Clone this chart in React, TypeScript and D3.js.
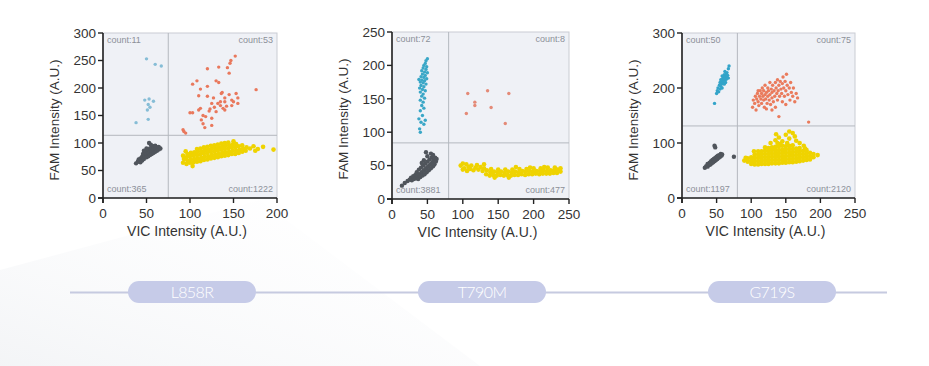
import React from "react";
import * as d3 from "d3";

type P = [number, number];

// ---------- Panel 1: L858R ----------
const p1Blue: P[] = [[50,253],[60,243],[67,240],[48,178],[53,180],[58,176],[52,170],[54,165],[51,160],[52,143],[38,137]];
const p1Orange: P[] = [[92,124],[93,121],[95,118],[100,155],[103,155],[103,207],[108,213],[110,160],[110,186],[112,163],[112,198],[113,142],[115,150],[115,135],[117,128],[118,148],[120,235],[120,203],[120,185],[122,158],[123,162],[125,172],[125,145],[125,132],[127,182],[128,165],[130,213],[130,157],[132,172],[133,238],[133,210],[135,175],[135,168],[136,190],[137,192],[138,163],[140,182],[140,175],[140,160],[142,167],[143,237],[145,188],[145,227],[146,245],[147,250],[148,178],[148,168],[150,175],[152,258],[153,190],[155,182],[155,172],[176,197]];
const p1Gray: P[] = [[38,63],[40,66],[41,70],[43,65],[43,72],[45,68],[45,75],[46,80],[47,71],[48,77],[48,83],[50,74],[50,80],[50,86],[52,76],[52,82],[52,88],[54,78],[54,84],[54,90],[56,80],[56,86],[56,92],[58,82],[58,88],[58,94],[60,84],[60,90],[60,95],[62,86],[62,92],[64,88],[64,93],[66,90],[55,97],[50,90],[47,86],[53,100]];
const p1Yellow: P[] = [[92,64],[93,71],[92,77],[96,62],[97,68],[96,74],[97,80],[100,64],[101,70],[100,76],[101,82],[104,65],[105,71],[104,77],[105,83],[108,66],[109,72],[108,78],[109,84],[108,89],[112,67],[113,73],[112,79],[113,85],[112,90],[116,69],[117,75],[116,81],[117,87],[116,92],[120,70],[121,76],[120,82],[121,88],[120,93],[124,72],[125,78],[124,84],[125,90],[124,95],[128,73],[129,79],[128,85],[129,91],[128,96],[132,74],[133,80],[132,86],[133,92],[132,97],[136,76],[137,82],[136,88],[137,94],[136,99],[140,77],[141,83],[140,89],[141,95],[140,100],[144,78],[145,84],[144,90],[145,96],[144,101],[148,80],[149,86],[148,92],[149,97],[152,80],[153,86],[152,92],[153,98],[156,82],[157,88],[156,94],[160,84],[161,90],[160,96],[164,86],[165,92],[169,90],[173,94],[178,89],[184,93],[196,88],[175,86],[95,85],[103,58],[150,103]];
const p1Counts = ["count:11", "count:53", "count:365", "count:1222"];

// ---------- Panel 2: T790M ----------
const p2Blue: P[] = [[50,210],[48,207],[47,203],[45,200],[49,198],[44,196],[48,194],[42,192],[46,190],[50,189],[43,187],[47,185],[41,183],[45,182],[49,180],[38,179],[42,178],[46,177],[40,175],[44,174],[48,172],[41,170],[45,168],[39,166],[43,164],[47,162],[40,160],[44,157],[42,154],[46,151],[40,148],[44,145],[42,140],[45,136],[40,132],[43,125],[38,120],[47,118],[41,115],[45,112],[39,105],[40,100]];
const p2Orange: P[] = [[107,158],[117,145],[117,140],[135,162],[140,137],[165,158],[105,128],[160,113]];
const p2Gray: P[] = [[14,20],[18,24],[22,27],[25,29],[27,32],[28,28],[30,34],[31,30],[33,36],[34,31],[35,40],[36,34],[37,30],[38,44],[39,37],[40,33],[41,47],[42,40],[43,35],[44,50],[45,43],[46,37],[47,53],[48,46],[49,40],[50,56],[51,49],[52,43],[53,59],[54,52],[55,46],[56,62],[57,55],[58,49],[59,58],[60,52],[61,62],[62,56],[50,64],[55,68],[48,70],[58,66],[45,58],[42,54],[63,60]];
const p2Yellow: P[] = [[97,50],[100,53],[102,46],[105,52],[108,48],[110,45],[112,50],[115,43],[118,47],[120,51],[122,44],[125,48],[128,42],[130,52],[130,46],[100,44],[106,42],[133,37],[134,43],[138,35],[139,40],[140,45],[143,36],[144,41],[148,35],[149,40],[150,44],[153,36],[154,41],[158,35],[159,39],[160,44],[163,36],[164,41],[168,35],[169,40],[170,44],[173,36],[174,41],[178,36],[179,40],[180,45],[183,37],[184,42],[188,36],[189,41],[190,45],[193,37],[194,42],[198,37],[199,41],[200,46],[203,38],[204,42],[208,37],[209,42],[210,46],[213,38],[214,43],[218,38],[219,42],[220,47],[223,38],[224,43],[228,39],[229,43],[230,47],[233,39],[234,44],[238,41],[238,46],[175,48],[195,47],[215,48],[145,32],[165,32]];
const p2Counts = ["count:72", "count:8", "count:3881", "count:477"];

// ---------- Panel 3: G719S ----------
const p3Blue: P[] = [[47,172],[50,190],[51,195],[52,200],[53,193],[54,205],[55,198],[55,210],[56,203],[57,212],[57,207],[58,215],[58,200],[59,218],[59,210],[60,213],[60,220],[61,207],[61,224],[62,215],[62,218],[63,222],[63,210],[64,225],[64,216],[65,220],[65,228],[66,223],[67,235],[67,218],[68,240],[62,230],[56,215],[58,222]];
const p3Orange: P[] = [[102,165],[103,178],[105,172],[106,185],[107,160],[108,180],[109,190],[110,175],[111,168],[112,185],[113,195],[114,180],[115,172],[115,190],[116,200],[117,185],[118,178],[118,195],[119,165],[120,205],[120,188],[121,180],[122,192],[123,172],[124,200],[124,185],[125,195],[126,178],[127,210],[127,188],[128,170],[129,198],[130,182],[130,192],[131,205],[132,175],[133,195],[134,185],[135,210],[135,165],[136,200],[137,190],[138,215],[138,178],[139,195],[140,205],[140,148],[141,185],[142,212],[143,198],[144,190],[145,208],[145,175],[146,220],[147,200],[148,185],[149,212],[150,195],[150,170],[151,225],[152,205],[153,188],[155,200],[156,178],[157,210],[158,192],[160,185],[161,200],[163,175],[165,190],[167,182],[130,160],[122,162],[183,138],[110,195]];
const p3Gray: P[] = [[33,55],[35,58],[37,57],[37,62],[39,60],[40,64],[41,61],[42,67],[43,63],[44,69],[45,65],[46,71],[47,67],[48,73],[49,69],[50,75],[51,71],[52,77],[53,73],[54,78],[55,75],[56,80],[57,77],[58,79],[47,95],[48,92],[75,75]];
const p3Yellow: P[] = [[95,66],[95,72],[100,62],[100,68],[100,74],[105,61],[105,67],[105,73],[105,79],[110,61],[110,67],[110,73],[110,79],[115,62],[115,68],[115,74],[115,80],[115,85],[120,62],[120,68],[120,74],[120,80],[120,86],[125,62],[125,68],[125,74],[125,80],[125,86],[125,91],[130,63],[130,69],[130,75],[130,81],[130,87],[130,92],[135,63],[135,69],[135,75],[135,81],[135,87],[135,93],[140,63],[140,69],[140,75],[140,81],[140,87],[140,94],[145,64],[145,70],[145,76],[145,82],[145,88],[145,95],[150,64],[150,70],[150,76],[150,82],[150,88],[150,94],[155,65],[155,71],[155,77],[155,83],[155,89],[155,95],[160,65],[160,71],[160,77],[160,83],[160,89],[160,96],[165,66],[165,72],[165,78],[165,84],[165,90],[170,67],[170,73],[170,79],[170,85],[170,91],[175,68],[175,74],[175,80],[175,86],[180,69],[180,75],[180,81],[180,87],[185,70],[185,76],[185,82],[190,74],[190,80],[196,78],[128,100],[135,105],[140,110],[145,103],[150,115],[155,108],[160,118],[163,112],[165,104],[170,100],[142,98],[152,100],[176,95],[178,90],[138,100],[120,92],[110,85],[90,68],[92,73],[104,85],[136,116],[155,121]];
const p3Counts = ["count:50", "count:75", "count:1197", "count:2120"];

// ---------- axes / labels ----------
const p1XTicks = [0, 50, 100, 150, 200];
const p1YTicks = [0, 50, 100, 150, 200, 250, 300];
const p2XTicks = [0, 50, 100, 150, 200, 250];
const p2YTicks = [0, 50, 100, 150, 200, 250];
const p3XTicks = [0, 50, 100, 150, 200, 250];
const p3YTicks = [0, 100, 200, 300];
const thresholdsX = [75, 80, 80];
const thresholdsY = [114, 84, 131];
const mutations = ["L858R", "T790M", "G719S"];
const xTitle = "VIC Intensity (A.U.)";
const yTitle = "FAM Intensity (A.U.)";

type Panel = {
  left: number; top: number; w: number; h: number;
  xMax: number; yMax: number; xTicks: number[]; yTicks: number[];
  tx: number; ty: number; counts: string[];
  blue: P[]; orange: P[]; gray: P[]; yellow: P[];
  blueColor: string; orangeColor: string;
};

const panels: Panel[] = [
  { left: 103, top: 33, w: 174, h: 165, xMax: 200, yMax: 300, xTicks: p1XTicks, yTicks: p1YTicks, tx: thresholdsX[0], ty: thresholdsY[0], counts: p1Counts, blue: p1Blue, orange: p1Orange, gray: p1Gray, yellow: p1Yellow, blueColor: "#86bdd6", orangeColor: "#e9785c" },
  { left: 392, top: 32, w: 177, h: 167, xMax: 250, yMax: 250, xTicks: p2XTicks, yTicks: p2YTicks, tx: thresholdsX[1], ty: thresholdsY[1], counts: p2Counts, blue: p2Blue, orange: p2Orange, gray: p2Gray, yellow: p2Yellow, blueColor: "#3aa7c7", orangeColor: "#e48a77" },
  { left: 682, top: 33, w: 173, h: 165, xMax: 250, yMax: 300, xTicks: p3XTicks, yTicks: p3YTicks, tx: thresholdsX[2], ty: thresholdsY[2], counts: p3Counts, blue: p3Blue, orange: p3Orange, gray: p3Gray, yellow: p3Yellow, blueColor: "#33a4c9", orangeColor: "#ea7b5c" },
];

const FONT = "'Liberation Sans', Arial, sans-serif";

function ScatterPanel({ p }: { p: Panel }) {
  const x = d3.scaleLinear().domain([0, p.xMax]).range([p.left, p.left + p.w]);
  const y = d3.scaleLinear().domain([0, p.yMax]).range([p.top + p.h, p.top]);
  const right = p.left + p.w;
  const bottom = p.top + p.h;
  const dots = (pts: P[], color: string, r: number, op = 1) =>
    pts.map((d, i) => <circle key={i} cx={x(d[0])} cy={y(d[1])} r={r} fill={color} opacity={op} />);
  return (
    <g>
      <rect x={p.left} y={p.top} width={p.w} height={p.h} fill="#eff1f6" stroke="#c9ccd3" strokeWidth={1} />
      <line x1={x(p.tx)} x2={x(p.tx)} y1={p.top} y2={bottom} stroke="#b4b8bf" strokeWidth={1} />
      <line x1={p.left} x2={right} y1={y(p.ty)} y2={y(p.ty)} stroke="#b4b8bf" strokeWidth={1} />
      {dots(p.yellow, "#efd300", 2.3)}
      {dots(p.gray, "#50555c", 2.2)}
      {dots(p.blue, p.blueColor, 1.7)}
      {dots(p.orange, p.orangeColor, 1.7)}
      <g fontFamily={FONT} fontSize={9} fill="#8c9099">
        <text x={p.left + 4} y={p.top + 10}>{p.counts[0]}</text>
        <text x={right - 4} y={p.top + 10} textAnchor="end">{p.counts[1]}</text>
        <text x={p.left + 4} y={bottom - 6}>{p.counts[2]}</text>
        <text x={right - 4} y={bottom - 6} textAnchor="end">{p.counts[3]}</text>
      </g>
      <line x1={p.left} x2={p.left} y1={p.top} y2={bottom + 5} stroke="#222" strokeWidth={1.6} />
      <line x1={p.left - 5} x2={right} y1={bottom} y2={bottom} stroke="#222" strokeWidth={1.6} />
      <g fontFamily={FONT} fill="#333">
        {p.yTicks.map((t) => (
          <g key={"y" + t}>
            <line x1={p.left - 5} x2={p.left} y1={y(t)} y2={y(t)} stroke="#222" strokeWidth={1.4} />
            <text x={p.left - 7} y={y(t)} dy="0.35em" textAnchor="end" fontSize={13.5}>{t}</text>
          </g>
        ))}
        {p.xTicks.map((t) => (
          <g key={"x" + t}>
            <line x1={x(t)} x2={x(t)} y1={bottom} y2={bottom + 5} stroke="#222" strokeWidth={1.4} />
            <text x={x(t)} y={bottom + 19.5} textAnchor="middle" fontSize={13.5}>{t}</text>
          </g>
        ))}
        <text x={p.left + p.w / 2 - 3} y={bottom + 38} textAnchor="middle" fontSize={14}>{xTitle}</text>
        <text transform={`translate(${p.left - 49},${p.top + 87}) rotate(-90)`} textAnchor="middle" dy="0.35em" fontSize={13.5}>{yTitle}</text>
      </g>
    </g>
  );
}

export default function App() {
  const pillCenters = d3.scalePoint<string>().domain(mutations).range([192, 772]);
  return (
    <svg width={929} height={366} style={{ position: "absolute", left: 0, top: 0, background: "#fff" }}>
      <defs>
        <linearGradient id="bgStreak" x1="0" y1="1" x2="1" y2="0">
          <stop offset="0" stopColor="#eef0f3" stopOpacity={0.7} />
          <stop offset="0.6" stopColor="#f7f8fa" stopOpacity={0.3} />
          <stop offset="1" stopColor="#ffffff" stopOpacity={0} />
        </linearGradient>
      </defs>
      <rect width={929} height={366} fill="#ffffff" />
      <polygon points="0,366 0,270 260,200 480,366" fill="url(#bgStreak)" />
      {panels.map((p, i) => <ScatterPanel key={i} p={p} />)}
      <line x1={70} x2={887} y1={292.5} y2={292.5} stroke="#c6cae0" strokeWidth={2} />
      {mutations.map((m) => (
        <g key={m}>
          <rect x={(pillCenters(m) as number) - 64} y={281} width={128} height={22} rx={11} fill="#c6cbe8" />
          <text x={pillCenters(m) as number} y={292} dy="0.36em" textAnchor="middle" fontFamily="Lato, 'Open Sans', sans-serif" fontWeight={300} fontSize={16} letterSpacing={-0.6} fill="#ffffff">{m}</text>
        </g>
      ))}
    </svg>
  );
}
